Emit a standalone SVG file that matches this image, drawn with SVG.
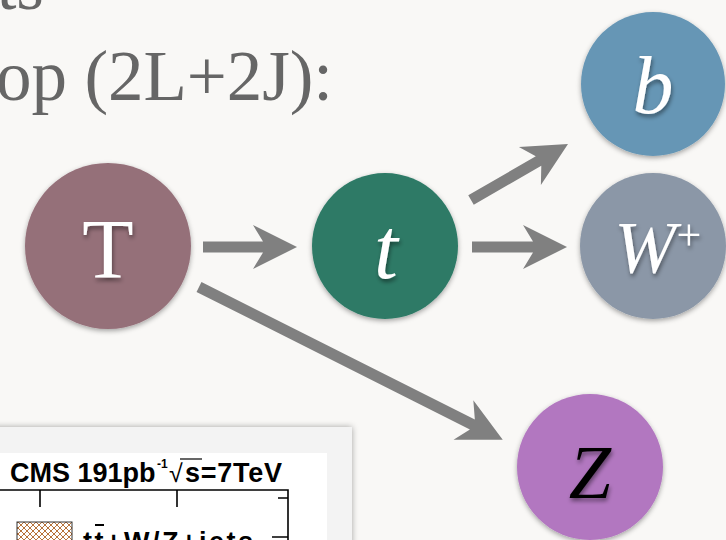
<svg xmlns="http://www.w3.org/2000/svg" width="726" height="540" viewBox="0 0 726 540">
  <defs>
    <style>
      .heading { font-family: "Liberation Serif", "Times New Roman", serif; font-size: 71px; fill: #666666; }
      .label { font-family: "Liberation Serif", "Times New Roman", serif; fill: #ffffff; text-anchor: middle; }
      .arrow { fill: #808080; }
      .plot { font-family: "Liberation Sans", Arial, sans-serif; font-weight: bold; fill: #000000; font-size: 27px; }
      .plot-sup { font-size: 12px; }
      .plot-root { font-size: 25px; font-weight: normal; }
      .axis { stroke: #000000; stroke-width: 1.6; fill: none; }
    </style>
    <filter id="ballShadow" x="-20%" y="-20%" width="140%" height="140%">
      <feDropShadow dx="0" dy="2" stdDeviation="2.5" flood-color="#000000" flood-opacity="0.35"/>
    </filter>
    <filter id="textShadow" x="-30%" y="-30%" width="160%" height="160%">
      <feDropShadow dx="1" dy="3" stdDeviation="2" flood-color="#000000" flood-opacity="0.45"/>
    </filter>
    <filter id="frameShadow" x="-10%" y="-20%" width="120%" height="140%">
      <feDropShadow dx="0" dy="0" stdDeviation="3" flood-color="#000000" flood-opacity="0.35"/>
    </filter>
    <pattern id="hatch" width="6" height="6" patternUnits="userSpaceOnUse">
      <rect width="6" height="6" fill="#ffffff"/>
      <path d="M0,0 L6,6 M6,0 L0,6" stroke="#b8733a" stroke-width="1"/>
    </pattern>
  </defs>

  <!-- page background -->
  <rect width="726" height="540" fill="#f9f8f6"/>

  <!-- slide heading -->
  <text class="heading" x="44" y="9" text-anchor="end">ts</text>
  <text class="heading" x="-4" y="100" textLength="337" lengthAdjust="spacing">op (2L+2J):</text>

  <!-- inset plot -->
  <g id="plot-inset">
    <rect x="-6" y="427" width="358" height="120" fill="#f3f3f3" filter="url(#frameShadow)"/>
    <rect x="-6" y="453" width="333" height="94" fill="#ffffff"/>
    <text class="plot" x="10" y="482">CMS 191pb</text>
    <text class="plot plot-sup" x="157" y="468">-1</text>
    <text class="plot plot-root" x="169" y="482">√</text>
    <text class="plot" x="185" y="482" textLength="97" lengthAdjust="spacing">s=7TeV</text>
    <line x1="180" y1="459" x2="202" y2="459" stroke="#000000" stroke-width="1.2"/>
    <path class="axis" d="M-2,490 H288 V545"/>
    <path class="axis" d="M40,490 V507 M177,490 V507 M278,498 H288 M272,537 H288"/>
    <rect x="17" y="522" width="55" height="30" fill="url(#hatch)" stroke="#333333" stroke-width="1"/>
    <text class="plot" x="83" y="551" textLength="170" lengthAdjust="spacing">tt+W/Z+jets</text>
    <line x1="95" y1="525" x2="104" y2="525" stroke="#000000" stroke-width="2"/>
  </g>

  <!-- decay arrows -->
  <g id="connectors">
    <polygon class="arrow" transform="translate(203,247)" points="0,-5.5 60,-5.5 50,-22 94,0 50,22 60,5.5 0,5.5"/>
    <polygon class="arrow" transform="translate(472,247)" points="0,-5.5 61,-5.5 51,-22 95,0 51,22 61,5.5 0,5.5"/>
    <polygon class="arrow" transform="translate(471,200) rotate(-30)" points="0,-5.5 78,-5.5 68,-22 112,0 68,22 78,5.5 0,5.5"/>
    <polygon class="arrow" transform="translate(199,287) rotate(26.7)" points="0,-5.5 306,-5.5 296,-22 340,0 296,22 306,5.5 0,5.5"/>
  </g>

  <!-- particles -->
  <g id="node-T">
    <circle cx="108" cy="246" r="83" fill="#956f79" filter="url(#ballShadow)"/>
    <text class="label" x="108" y="278" font-size="84" filter="url(#textShadow)">T</text>
  </g>
  <g id="node-t">
    <circle cx="385" cy="246" r="73" fill="#2d7a66" filter="url(#ballShadow)"/>
    <text class="label" x="386" y="278" font-size="86" font-style="italic" filter="url(#textShadow)">t</text>
  </g>
  <g id="node-b">
    <circle cx="653" cy="84" r="72" fill="#6696b5" filter="url(#ballShadow)"/>
    <text class="label" x="653" y="113" font-size="82" font-style="italic" filter="url(#textShadow)">b</text>
  </g>
  <g id="node-W">
    <circle cx="653" cy="246" r="73" fill="#8b97a7" filter="url(#ballShadow)"/>
    <text class="label" x="645" y="273" font-size="74" font-style="italic" filter="url(#textShadow)">W</text>
    <text class="label" x="689" y="250" font-size="44" filter="url(#textShadow)">+</text>
  </g>
  <g id="node-Z">
    <circle cx="590" cy="467" r="73" fill="#b277c0" filter="url(#ballShadow)"/>
    <text class="label" x="590" y="498" font-size="76" font-style="italic" style="fill:#000000" filter="url(#textShadow)">Z</text>
  </g>
</svg>
